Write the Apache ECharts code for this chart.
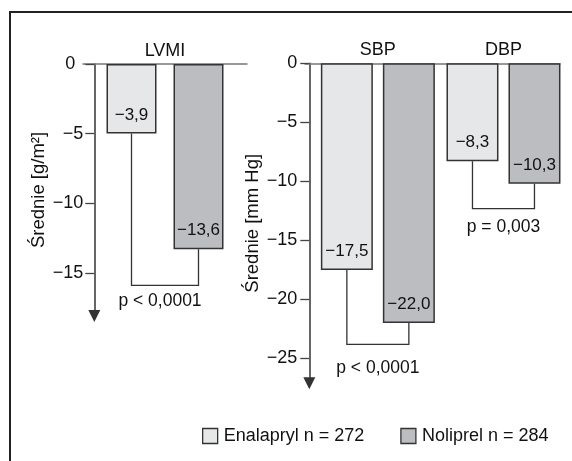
<!DOCTYPE html>
<html><head><meta charset="utf-8">
<script src="https://cdn.jsdelivr.net/npm/echarts@6/dist/echarts.min.js"></script>
<style>html,body{margin:0;padding:0;background:#fff}#c{width:572px;height:461px}</style>
</head><body><div id="c"></div>
<script>
const FONT = '"Liberation Sans Narrow","Liberation Sans",Arial,sans-serif';
// ---- data ----
const groups = ['LVMI', 'SBP', 'DBP'];
const groupPanel = [0, 1, 1];
const groupPos = [1, 1, 2];
const enalBar = [-5.0, -17.5, -8.3];      // bar ends as drawn
const nolipBar = [-13.3, -22.0, -10.2];
const enalLabel = ['−3,9', '−17,5', '−8,3'];
const nolipLabel = ['−13,6', '−22,0', '−10,3'];
const bracketY = [-15.9, -23.8, -12.3];
const pText = ['p < 0,0001', 'p < 0,0001', 'p = 0,003'];
const seriesNames = ['Enalapryl n = 272', 'Noliprel n = 284'];
const yNames = ['Średnie [g/m²]', 'Średnie [mm Hg]'];
const yTicks = [[0, -5, -10, -15], [0, -5, -10, -15, -20, -25]];

// ---- styles ----
const colors = ['#e6e7e8', '#bcbdc0'];
const panelCfg = [
  {grid: {left: 83, top: 64, width: 164, height: 252}, xMin: 0, xMax: 2, yMin: -18.1, yOff: -11.3, barW: 50, gap: 17, labelMargin: 11, zeroPad: 8},
  {grid: {left: 305, top: 63.3, width: 255, height: 320}, xMin: 0.42, xMax: 2.45, yMin: -27.1, yOff: -4.3, barW: 52, gap: 10, labelMargin: 12, zeroPad: 0}
];
const pDx = [-5, 0, 0];
const pDy = [16, 24, 18.5];

function idxOfPanel(p) { return groups.map((g, i) => i).filter(i => groupPanel[i] === p); }

const grids = [], xAxes = [], yAxes = [], series = [];
panelCfg.forEach((cfg, p) => {
  const idxs = idxOfPanel(p);
  grids.push(Object.assign({outerBoundsMode: 'none', containLabel: false}, cfg.grid));
  xAxes.push({
    type: 'value', gridIndex: p, min: cfg.xMin, max: cfg.xMax, position: 'top',
    axisLine: {show: true, onZero: false, lineStyle: {color: '#777', width: 1.5}},
    axisTick: {show: false}, splitLine: {show: false},
    axisLabel: {
      customValues: idxs.map(i => groupPos[i]), margin: 4,
      formatter: v => { const i = idxs.find(k => groupPos[k] === v); return i === undefined ? '' : groups[i]; },
      fontSize: 18, fontFamily: FONT, color: '#111'
    }
  });
  yAxes.push({
    type: 'value', gridIndex: p, min: cfg.yMin, max: 0, position: 'left', offset: cfg.yOff,
    name: yNames[p], nameLocation: 'middle', nameGap: 38,
    nameTextStyle: {fontSize: 18.5, fontFamily: FONT, color: '#111'},
    axisLine: {show: true, onZero: false, symbol: ['triangle', 'none'], symbolSize: [12, 12], lineStyle: {color: '#333', width: 1.5}},
    axisTick: {show: true, length: 9, customValues: yTicks[p], lineStyle: {color: '#444', width: 1.3}},
    splitLine: {show: false},
    axisLabel: {
      customValues: yTicks[p], margin: cfg.labelMargin,
      formatter: v => v === 0 ? '{z|0}' : '−' + Math.abs(v),
      rich: {z: {padding: [0, cfg.zeroPad, 0, 0], fontSize: 18, fontFamily: FONT, color: '#111'}},
      fontSize: 18, fontFamily: FONT, color: '#111'
    }
  });
  [[enalBar, enalLabel], [nolipBar, nolipLabel]].forEach(([vals, labs], s) => {
    series.push({
      type: 'bar', name: seriesNames[s], xAxisIndex: p, yAxisIndex: p,
      barWidth: cfg.barW, barGap: (cfg.gap / cfg.barW * 100) + '%',
      data: idxs.map(i => [groupPos[i], vals[i]]),
      itemStyle: {color: colors[s], borderColor: '#333', borderWidth: 1.5},
      label: {
        show: true, position: 'insideBottom', distance: 10,
        formatter: prm => labs[idxs[prm.dataIndex]],
        fontSize: 17, fontFamily: FONT, color: '#111'
      },
      silent: true
    });
  });
  const half = (cfg.barW + cfg.gap) / 2;
  series.push({
    type: 'custom', xAxisIndex: p, yAxisIndex: p, silent: true,
    data: idxs.map(i => [groupPos[i], enalBar[i], nolipBar[i], bracketY[i], i]),
    renderItem: (params, api) => {
      const gx = api.value(0);
      const c = api.coord([gx, 0]);
      const lx = c[0] - half, rx = c[0] + half;
      const ye = api.coord([gx, api.value(1)])[1];
      const yn = api.coord([gx, api.value(2)])[1];
      const yb = api.coord([gx, api.value(3)])[1];
      const i = api.value(4);
      return {type: 'group', children: [
        {type: 'polyline', shape: {points: [[lx, ye], [lx, yb], [rx, yb], [rx, yn]]},
         style: {stroke: '#333', lineWidth: 1.3, fill: null}},
        {type: 'text', style: {text: pText[i], x: c[0] + pDx[i], y: yb + pDy[i], align: 'center', verticalAlign: 'middle',
          fontSize: 17.5, fontFamily: FONT, fill: '#111'}}
      ]};
    }
  });
});

const chart = echarts.init(document.getElementById('c'), null, {renderer: 'canvas'});
chart.setOption({
  animation: false,
  backgroundColor: '#fff',
  grid: grids, xAxis: xAxes, yAxis: yAxes, series: series,
  legend: {
    data: seriesNames, left: 197, top: 422, width: 370, itemWidth: 15, itemHeight: 15, itemGap: 36,
    icon: 'rect', selectedMode: false,
    itemStyle: {borderColor: '#333', borderWidth: 1.3},
    textStyle: {fontSize: 18, fontFamily: FONT, color: '#111', padding: [0, 0, 0, 1]}
  },
  graphic: [{type: 'polyline', silent: true, shape: {points: [[10, 461], [10, 12], [572, 12]]},
    style: {stroke: '#222', lineWidth: 2, fill: null}}]
});
</script></body></html>
